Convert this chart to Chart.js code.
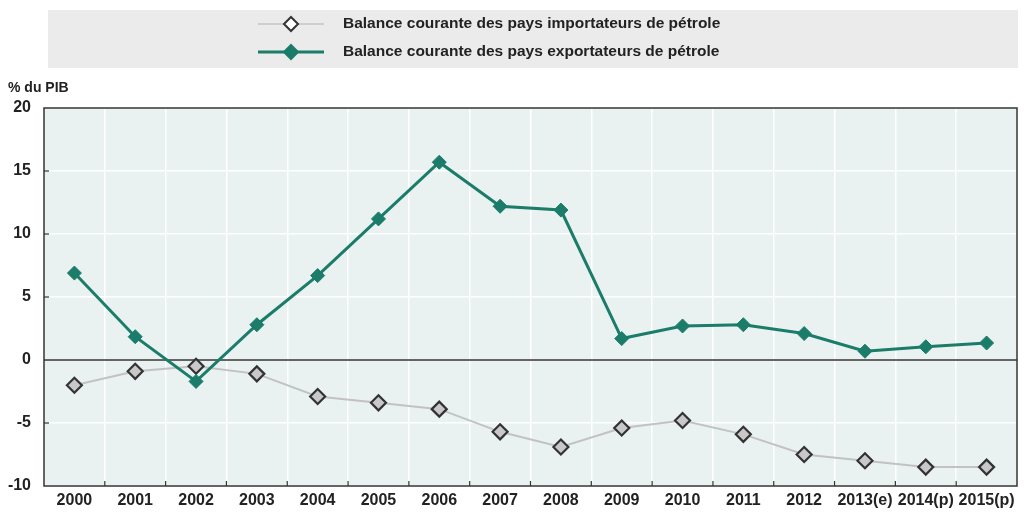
<!DOCTYPE html>
<html>
<head>
<meta charset="utf-8">
<script src="https://cdn.jsdelivr.net/npm/chart.js@4"></script>
<style>
  html, body { margin: 0; padding: 0; background: #fff; }
  #wrap { width: 1034px; height: 520px; position: relative; }
</style>
</head>
<body>
<div id="wrap"><canvas id="chart"></canvas></div>
<script>
// Données
const years = ['2000', '2001', '2002', '2003', '2004', '2005', '2006', '2007',
  '2008', '2009', '2010', '2011', '2012', '2013(e)', '2014(p)', '2015(p)'];
const importateurs = [-2.0, -0.9, -0.5, -1.1, -2.9, -3.4, -3.9, -5.7,
  -6.9, -5.4, -4.8, -5.9, -7.5, -8.0, -8.5, -8.5];
const exportateurs = [6.9, 1.85, -1.7, 2.8, 6.7, 11.2, 15.7, 12.2,
  11.9, 1.7, 2.7, 2.8, 2.1, 0.7, 1.05, 1.35];
const yTicks = [-10, -5, 0, 5, 10, 15, 20];
const labelImport = 'Balance courante des pays importateurs de pétrole';
const labelExport = 'Balance courante des pays exportateurs de pétrole';

const GREEN = '#1a7c69';
const FONT = '"Liberation Sans", Arial, sans-serif';

// Fond, cadre, ligne zéro, légende, titre de l'axe
const decorPlugin = {
  id: 'decor',
  beforeDraw(chart) {
    const { ctx, chartArea: a } = chart;
    ctx.save();
    ctx.fillStyle = '#e9f1f1';
    ctx.fillRect(a.left, a.top, a.right - a.left, a.bottom - a.top);
    ctx.restore();
  },
  beforeDatasetsDraw(chart) {
    const { ctx, chartArea: a, scales } = chart;
    ctx.save();
    ctx.strokeStyle = '#333';
    ctx.lineWidth = 1.5;
    // cadre
    ctx.strokeRect(a.left, a.top, a.right - a.left, a.bottom - a.top);
    // ligne zéro
    const y0 = scales.y.getPixelForValue(0);
    ctx.beginPath();
    ctx.moveTo(a.left, y0);
    ctx.lineTo(a.right, y0);
    ctx.stroke();
    // petites graduations en x (entre catégories)
    ctx.lineWidth = 1.2;
    const xs = scales.x;
    for (let i = 1; i < years.length; i++) {
      const x = (xs.getPixelForValue(i - 1) + xs.getPixelForValue(i)) / 2;
      ctx.beginPath();
      ctx.moveTo(x, a.bottom);
      ctx.lineTo(x, a.bottom - 5);
      ctx.stroke();
    }
    // petites graduations en y
    yTicks.forEach(v => {
      if (v === 0 || v === 20 || v === -10) return;
      const y = scales.y.getPixelForValue(v);
      ctx.beginPath();
      ctx.moveTo(a.left, y);
      ctx.lineTo(a.left + 5, y);
      ctx.stroke();
    });
    ctx.restore();
  },
  afterDraw(chart) {
    const { ctx } = chart;
    ctx.save();
    // titre axe
    ctx.fillStyle = '#222';
    ctx.font = 'bold 14px ' + FONT;
    ctx.textBaseline = 'middle';
    ctx.fillText('% du PIB', 8, 88);

    // légende
    ctx.fillStyle = '#ebebeb';
    ctx.fillRect(48, 10, 970, 58);
    const rows = [
      { y: 24, label: labelImport, line: '#c4c4c4', lw: 1.5, fill: '#ffffff', stroke: '#333', r: 7 },
      { y: 52, label: labelExport, line: GREEN, lw: 3, fill: GREEN, stroke: GREEN, r: 7 }
    ];
    rows.forEach(r => {
      ctx.strokeStyle = r.line;
      ctx.lineWidth = r.lw;
      ctx.beginPath();
      ctx.moveTo(258, r.y);
      ctx.lineTo(324, r.y);
      ctx.stroke();
      ctx.beginPath();
      ctx.moveTo(291, r.y - r.r);
      ctx.lineTo(291 + r.r, r.y);
      ctx.lineTo(291, r.y + r.r);
      ctx.lineTo(291 - r.r, r.y);
      ctx.closePath();
      ctx.fillStyle = r.fill;
      ctx.fill();
      ctx.strokeStyle = r.stroke;
      ctx.lineWidth = 2;
      ctx.stroke();
      ctx.fillStyle = '#222';
      ctx.font = 'bold 15.5px ' + FONT;
      ctx.textBaseline = 'middle';
      ctx.fillText(r.label, 343, r.y);
    });
    ctx.restore();
  }
};

new Chart(document.getElementById('chart'), {
  type: 'line',
  data: {
    labels: years,
    datasets: [
      {
        label: labelExport,
        data: exportateurs,
        borderColor: GREEN,
        backgroundColor: GREEN,
        borderWidth: 3,
        pointStyle: 'rectRot',
        pointRadius: 7,
        pointBorderWidth: 1,
        pointBackgroundColor: GREEN,
        pointBorderColor: GREEN,
        tension: 0,
        order: 1
      },
      {
        label: labelImport,
        data: importateurs,
        borderColor: '#c2c2c2',
        backgroundColor: '#c8c8c8',
        borderWidth: 2,
        pointStyle: 'rectRot',
        pointRadius: 7.5,
        pointBorderWidth: 2.2,
        pointBackgroundColor: '#c8c8c8',
        pointBorderColor: '#333',
        tension: 0,
        order: 2
      }
    ]
  },
  options: {
    responsive: true,
    maintainAspectRatio: false,
    animation: false,
    layout: { padding: { top: 108, right: 17, left: 0, bottom: 0 } },
    plugins: {
      legend: { display: false },
      tooltip: { enabled: false }
    },
    scales: {
      x: {
        offset: true,
        grid: { offset: true, color: '#ffffff', lineWidth: 1.5, drawTicks: false },
        border: { display: false },
        ticks: { color: '#222', font: { family: FONT, size: 16, weight: 'bold' }, padding: 5, autoSkip: false, maxRotation: 0 },
        afterFit(s) { s.height = 34; }
      },
      y: {
        min: -10,
        max: 20,
        grid: { color: '#ffffff', lineWidth: 1.5, drawTicks: false },
        border: { display: false },
        afterBuildTicks(s) { s.ticks = yTicks.map(v => ({ value: v })); },
        ticks: { color: '#222', font: { family: FONT, size: 16, weight: 'bold' }, padding: 13 },
        afterFit(s) { s.width = 44; }
      }
    }
  },
  plugins: [decorPlugin]
});
</script>
</body>
</html>
